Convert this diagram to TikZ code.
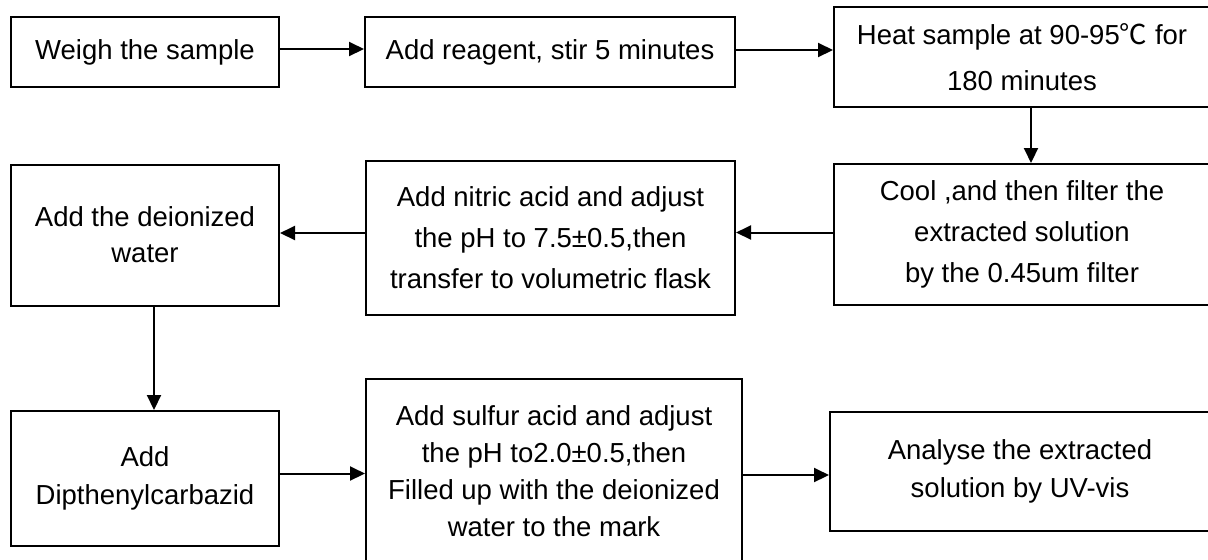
\documentclass[tikz,border=0pt]{standalone}
\usepackage{fontspec}
\setmainfont{Liberation Sans}
\newfontfamily\cjk{Noto Sans CJK SC}
\usetikzlibrary{arrows.meta,positioning}

\tikzset{
    stepbox/.style={draw, line width=1pt, rectangle, align=center, inner sep=0pt,
        font=\fontsize{13.75}{20.5}\selectfont},
    flow/.style={line width=1pt, -{Triangle[length=7.5pt,width=7pt]}}
}

\begin{document}
\begin{tikzpicture}[x=0.5pt, y=-0.5pt]
        \useasboundingbox (0,0) rectangle (1208,559);
        \clip (0,0) rectangle (1208,559);
        \begin{scope}
            \node[stepbox, minimum width=134pt, minimum height=35pt] (weigh) at (145,52)
            {Weigh the sample};
            \node[stepbox, minimum width=185pt, minimum height=35pt] (reagent) at (550,52)
            {Add reagent, stir 5 minutes};
            \node[stepbox, minimum width=188pt, minimum height=50pt,
                font=\fontsize{13.75}{23}\selectfont] (heat) at (1022,57)
            {Heat sample at 90-95{\cjk ℃} for\\180 minutes};
            \node[stepbox, minimum width=188pt, minimum height=70.5pt] (cool) at (1022,234.5)
            {Cool ,and then filter the\\extracted solution\\by the 0.45um filter};
            \node[stepbox, minimum width=184.5pt, minimum height=77pt] (nitric) at (550.5,238)
            {Add nitric acid and adjust\\the pH to 7.5±0.5,then\\transfer to volumetric flask};
            \node[stepbox, minimum width=134pt, minimum height=70.5pt,
                font=\fontsize{13.75}{18}\selectfont] (water) at (145,235)
            {Add the deionized\\water};
            \node[stepbox, minimum width=134pt, minimum height=67.5pt,
                font=\fontsize{13.75}{19}\selectfont] (dpc) at (145,478.5)
            {Add\\Dipthenylcarbazid};
            \node[stepbox, minimum width=188pt, minimum height=92pt,
                font=\fontsize{13.75}{18.5}\selectfont] (sulfur) at (554,471)
            {Add sulfur acid and adjust\\the pH to2.0±0.5,then\\Filled up with the deionized\\water to the mark};
            \node[stepbox, minimum width=190pt, minimum height=59.5pt,
                font=\fontsize{13.75}{19}\selectfont] (uvvis) at (1020,471.5)
            {Analyse the extracted\\solution by UV-vis};
        \end{scope}

        \begin{scope}[flow]
            \draw ([yshift=1.5pt]weigh.east) -- ([yshift=1.5pt]reagent.west);
            \draw ([yshift=1pt]reagent.east) -- ([yshift=1pt]reagent.east -| heat.west);
            \draw ([xshift=4.5pt]heat.south) -- ([xshift=4.5pt]cool.north);
            \draw ([yshift=1pt]cool.west) -- ([yshift=1pt]cool.west -| nitric.east);
            \draw ([yshift=2.5pt]nitric.west) -- ([yshift=2.5pt]nitric.west -| water.east);
            \draw ([xshift=4.5pt]water.south) -- ([xshift=4.5pt]dpc.north);
            \draw ([yshift=2.5pt]dpc.east) -- ([yshift=2.5pt]dpc.east -| sulfur.west);
            \draw ([yshift=-2pt]sulfur.east) -- ([yshift=-2pt]sulfur.east -| uvvis.west);
        \end{scope}
\end{tikzpicture}
\end{document}
